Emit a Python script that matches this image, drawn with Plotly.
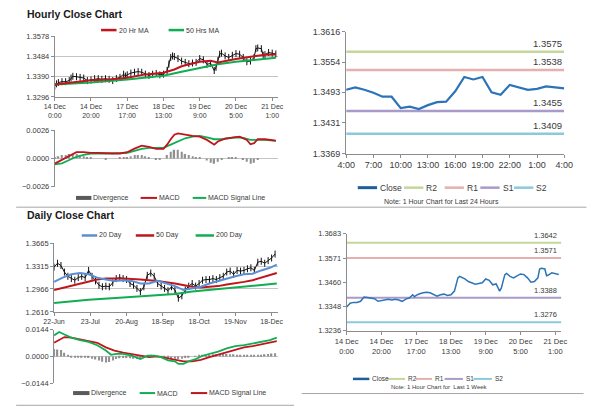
import plotly.graph_objects as go

W, H = 600, 413
OFF = 8  # the page body margin shifts the figure by 8 px
FONT = "Liberation Sans, Arial, sans-serif"

# ---------------- data: hourly (last 1 week) ----------------
hourly_tick_idx = [0, 20, 40, 60, 80, 100, 120]
hourly_tick_text = ["14 Dec<br>0:00", "14 Dec<br>20:00", "17 Dec<br>17:00", "18 Dec<br>13:00",
                    "19 Dec<br>9:00", "20 Dec<br>5:00", "21 Dec<br>1:00"]

hourly_idx = [0, 1, 2, 4, 6, 8, 9, 10, 12, 14, 16, 18, 20, 22, 24, 26, 28, 30, 32, 34, 36, 38, 39, 40,
              42, 44, 46, 48, 50, 52, 54, 56, 58, 60, 62, 63, 64, 65, 66, 68, 70, 72, 74, 76, 78, 80,
              82, 84, 86, 88, 89, 90, 91, 92, 94, 96, 98, 100, 102, 104, 106, 108, 110, 111, 112, 114,
              115, 116, 118, 120, 122]
hourly_close = [1.3346, 1.3357, 1.3363, 1.3367, 1.3367, 1.3372, 1.3384, 1.3392, 1.3390, 1.3387, 1.3384,
                1.3372, 1.3375, 1.3381, 1.3381, 1.3378, 1.3381, 1.3378, 1.3372, 1.3382, 1.3387, 1.3402,
                1.3393, 1.3399, 1.3407, 1.3411, 1.3414, 1.3411, 1.3402, 1.3396, 1.3402, 1.3405, 1.3399,
                1.3402, 1.3419, 1.3449, 1.3480, 1.3487, 1.3484, 1.3475, 1.3463, 1.3457, 1.3451, 1.3454,
                1.3457, 1.3475, 1.3469, 1.3448, 1.3452, 1.3419, 1.3434, 1.3465, 1.3495, 1.3500, 1.3487,
                1.3480, 1.3490, 1.3498, 1.3495, 1.3480, 1.3460, 1.3463, 1.3480, 1.3521, 1.3524, 1.3521,
                1.3490, 1.3493, 1.3503, 1.3500, 1.3496]

ma20_idx = [0, 10, 20, 30, 40, 50, 60, 66, 70, 80, 86, 90, 94, 100, 110, 116, 122]
ma20_hr = [1.3354, 1.3363, 1.3374, 1.3377, 1.3385, 1.3401, 1.3409, 1.3424, 1.3439, 1.3460, 1.3464,
           1.3457, 1.3464, 1.3473, 1.3486, 1.3492, 1.3494]
ma50_idx = [0, 20, 40, 60, 70, 80, 90, 100, 110, 122]
ma50_hr = [1.3354, 1.3363, 1.3377, 1.3395, 1.3413, 1.3432, 1.3448, 1.3460, 1.3470, 1.3479]

macd_hr_idx = [0, 4, 8, 12, 16, 20, 24, 28, 32, 36, 40, 44, 48, 52, 56, 60, 62, 64, 66, 68, 72, 76, 80,
               84, 88, 90, 94, 98, 102, 106, 108, 110, 112, 116, 120, 122]
macd_hr = [-0.00048, -0.00015, 0.00020, 0.00057, 0.00057, 0.00050, 0.00050, 0.00045, 0.00045, 0.00045,
           0.00057, 0.00090, 0.00117, 0.00105, 0.00087, 0.00087, 0.00126, 0.00176, 0.00218, 0.00230,
           0.00215, 0.00206, 0.00200, 0.00170, 0.00126, 0.00155, 0.00182, 0.00194, 0.00200, 0.00170,
           0.00130, 0.00140, 0.00176, 0.00176, 0.00170, 0.00164]
signal_hr_idx = [0, 4, 8, 12, 16, 20, 28, 36, 40, 44, 48, 52, 56, 60, 64, 68, 72, 76, 80, 84, 88, 92,
                 96, 100, 104, 108, 112, 116, 122]
signal_hr = [-0.00054, -0.00045, -0.00015, 0.00015, 0.00033, 0.00045, 0.00045, 0.00045, 0.00050,
             0.00069, 0.00087, 0.00096, 0.00093, 0.00096, 0.00126, 0.00158, 0.00185, 0.00200, 0.00206,
             0.00194, 0.00176, 0.00176, 0.00185, 0.00194, 0.00188, 0.00170, 0.00170, 0.00170, 0.00161]
div_hr_idx = list(range(0, 123, 2))
div_hr = [0.0001, 0.0002, 0.0003, 0.0003, 0.0004, 0.0004, 0.0004, 0.0003, 0.0002, 0.0001, 0.0001, 0.0000,
          0.0000, 0.0000, -0.0001, 0.0000, 0.0000, 0.0000, 0.0001, 0.0001, 0.0001, 0.0002, 0.0003, 0.0003,
          0.0003, 0.0002, 0.0001, 0.0000, -0.0001, -0.0001, 0.0000, 0.0003, 0.0006, 0.0008, 0.0008, 0.0006,
          0.0004, 0.0003, 0.0002, 0.0001, 0.0001, 0.0000, -0.0002, -0.0004, -0.0005, -0.0003, -0.0001,
          0.0000, 0.0001, 0.0001, 0.0001, 0.0000, -0.0001, -0.0003, -0.0005, -0.0004, -0.0001, 0.0000,
          0.0000, 0.0000, 0.0000, 0.0000]

# ---------------- data: last 24 hours ----------------
hours_24_idx = list(range(25))
hours_24_tick_idx = [0, 3, 6, 9, 12, 15, 18, 21, 24]
hours_24_tick_text = ["4:00", "7:00", "10:00", "13:00", "16:00", "19:00", "22:00", "1:00", "4:00"]
close_24h = [1.3498, 1.3503, 1.3498, 1.3492, 1.3484, 1.3484, 1.3461, 1.3464, 1.3459, 1.3467, 1.3473,
             1.3474, 1.3495, 1.3524, 1.3519, 1.3524, 1.3493, 1.3488, 1.3508, 1.3503, 1.3498, 1.3500,
             1.3505, 1.3503, 1.3501]

level_names = ["R2", "R1", "S1", "S2"]
levels_24h = [1.3575, 1.3538, 1.3455, 1.3409]
levels_week = [1.3642, 1.3571, 1.3388, 1.3276]
level_colors = ["#c3d69b", "#e6b0af", "#a99bc9", "#8ccadb"]

# ---------------- data: daily ----------------
daily_tick_idx = [0, 21, 42, 63, 84, 105, 126]
daily_tick_text = ["22-Jun", "23-Jul", "20-Aug", "18-Sep", "18-Oct", "19-Nov", "18-Dec"]
daily_idx = list(range(0, 129, 2))
daily_close = [1.3300, 1.3360, 1.3325, 1.3225, 1.3160, 1.3125, 1.3100, 1.3140, 1.3160, 1.3140, 1.3250,
               1.3160, 1.3090, 1.3025, 1.3000, 1.3010, 1.3000, 1.3060, 1.3125, 1.3140, 1.3125, 1.3110,
               1.3050, 1.3025, 1.2975, 1.2925, 1.3000, 1.3175, 1.3210, 1.3160, 1.3050, 1.3010, 1.2975,
               1.2940, 1.3000, 1.2950, 1.2826, 1.2861, 1.2950, 1.3010, 1.3050, 1.3010, 1.3050, 1.3100,
               1.3110, 1.3110, 1.3125, 1.3110, 1.3140, 1.3160, 1.3225, 1.3240, 1.3190, 1.3250, 1.3240,
               1.3250, 1.3275, 1.3290, 1.3250, 1.3375, 1.3390, 1.3360, 1.3400, 1.3440, 1.3500]

ma_d_idx = [0, 5, 10, 15, 20, 25, 30, 35, 40, 45, 50, 55, 60, 65, 70, 75, 80, 85, 90, 95, 100, 105, 110,
            115, 120, 125, 129]
ma20_d = [1.3075, 1.3140, 1.3190, 1.3210, 1.3190, 1.3140, 1.3110, 1.3090, 1.3100, 1.3090, 1.3050, 1.3050,
          1.3090, 1.3050, 1.3010, 1.2950, 1.2975, 1.3000, 1.3050, 1.3090, 1.3125, 1.3160, 1.3190, 1.3200,
          1.3250, 1.3290, 1.3340]
ma50_d_idx = [0, 10, 20, 25, 30, 40, 50, 60, 70, 75, 80, 85, 90, 95, 100, 105, 110, 115, 120, 125, 129]
ma50_d = [1.2951, 1.3010, 1.3075, 1.3110, 1.3125, 1.3125, 1.3110, 1.3090, 1.3050, 1.3025, 1.3000, 1.2990,
          1.3000, 1.3010, 1.3035, 1.3050, 1.3075, 1.3100, 1.3140, 1.3175, 1.3210]
ma200_d_idx = [0, 20, 40, 60, 70, 80, 90, 100, 110, 120, 129]
ma200_d = [1.2751, 1.2801, 1.2836, 1.2866, 1.2891, 1.2926, 1.2951, 1.2975, 1.3000, 1.3025, 1.3050]

macd_d_idx = [0, 3, 6, 10, 15, 20, 25, 30, 33, 36, 40, 45, 50, 54, 58, 62, 66, 70, 72, 75, 78, 82, 86,
              90, 95, 100, 105, 110, 115, 120, 125, 129]
macd_d = [0.0114, 0.0132, 0.0119, 0.0102, 0.0088, 0.0079, 0.0061, 0.0032, 0.0009, 0.0014, 0.0014, 0.0004,
          -0.0014, 0.0004, 0.0004, -0.0004, -0.0021, -0.0026, -0.0040, -0.0040, -0.0026, -0.0014, 0.0004,
          0.0014, 0.0026, 0.0044, 0.0056, 0.0061, 0.0070, 0.0079, 0.0088, 0.0102]
signal_d_idx = [0, 3, 6, 10, 15, 20, 25, 30, 35, 40, 45, 50, 55, 60, 65, 70, 75, 80, 85, 90, 95, 100, 105,
                110, 115, 120, 125, 129]
signal_d = [0.0074, 0.0091, 0.0105, 0.0102, 0.0093, 0.0084, 0.0074, 0.0049, 0.0032, 0.0021, 0.0014, 0.0004,
            -0.0004, 0.0000, -0.0009, -0.0018, -0.0026, -0.0026, -0.0018, -0.0004, 0.0009, 0.0021, 0.0035,
            0.0049, 0.0056, 0.0067, 0.0074, 0.0083]
div_d_idx = list(range(0, 129, 2))
div_d = [0.0040, 0.0038, 0.0035, 0.0020, 0.0005, -0.0002, -0.0004, -0.0005, -0.0006, -0.0007, -0.0008,
         -0.0012, -0.0016, -0.0022, -0.0028, -0.0032, -0.0030, -0.0022, -0.0014, -0.0010, -0.0008, -0.0008,
         -0.0010, -0.0012, -0.0014, -0.0012, -0.0006, 0.0002, 0.0004, 0.0003, 0.0000, -0.0004, -0.0008,
         -0.0010, -0.0012, -0.0012, -0.0014, -0.0012, -0.0008, -0.0004, 0.0000, 0.0002, 0.0004, 0.0006,
         0.0008, 0.0010, 0.0012, 0.0014, 0.0014, 0.0014, 0.0014, 0.0012, 0.0012, 0.0010, 0.0010, 0.0010,
         0.0010, 0.0010, 0.0010, 0.0010, 0.0010, 0.0012, 0.0014, 0.0016, 0.0018]

# tick values
hr_price_ticks = [1.3296, 1.3390, 1.3484, 1.3578]
hr_macd_ticks = [-0.0026, 0.0, 0.0026]
h24_ticks = [1.3369, 1.3431, 1.3493, 1.3554, 1.3616]
d_price_ticks = [1.2616, 1.2966, 1.3315, 1.3665]
d_macd_ticks = [-0.0144, 0.0, 0.0144]
wk_ticks = [1.3236, 1.3348, 1.3460, 1.3571, 1.3683]

# ---------------- colours ----------------
RED = "#c0151c"
GREEN = "#10ad52"
BLUE_MA = "#5b8fd3"
CLOSE_BLUE = "#2c74b7"
GRID = "#c4c4c4"
AXIS = "#8c8c8c"
TXT = "#3a3a3a"
DIVC = "#8f8f8f"


def X(p):
    return (p - OFF) / W


def Y(p):
    return 1 - (p - OFF) / H


fig = go.Figure()


def line(x, y, color, width, ax, ay):
    fig.add_trace(go.Scatter(x=x, y=y, mode="lines", line=dict(color=color, width=width),
                             xaxis=ax, yaxis=ay, showlegend=False, hoverinfo="skip"))


def bar_close(x, y, ax, ay):
    # close line drawn with small vertical ticks, like the stock-bar look of the original
    fig.add_trace(go.Scatter(x=x, y=y, mode="lines+markers", line=dict(color="#111111", width=1),
                             marker=dict(symbol="line-ns-open", size=5, color="#111111",
                                         line=dict(width=1, color="#111111")),
                             xaxis=ax, yaxis=ay, showlegend=False, hoverinfo="skip"))


def bars(x, y, ax, ay, w):
    fig.add_trace(go.Bar(x=x, y=y, width=w, marker=dict(color=DIVC, line=dict(width=0)),
                         xaxis=ax, yaxis=ay, showlegend=False, hoverinfo="skip"))


# top-left price
bar_close(hourly_idx, hourly_close, "x", "y")
line(ma50_idx, ma50_hr, GREEN, 2, "x", "y")
line(ma20_idx, ma20_hr, RED, 2, "x", "y")
# top-left MACD
bars(div_hr_idx, div_hr, "x2", "y2", 0.8)
line(signal_hr_idx, signal_hr, GREEN, 1.8, "x2", "y2")
line(macd_hr_idx, macd_hr, RED, 1.8, "x2", "y2")
# top-right 24h
for name, lv, col in zip(level_names, levels_24h, level_colors):
    line([hours_24_idx[0], hours_24_idx[-1]], [lv, lv], col, 2.5, "x3", "y3")
line(hours_24_idx, close_24h, CLOSE_BLUE, 2.2, "x3", "y3")
# bottom-left daily
bar_close(daily_idx, daily_close, "x4", "y4")
line(ma200_d_idx, ma200_d, GREEN, 2, "x4", "y4")
line(ma50_d_idx, ma50_d, RED, 2, "x4", "y4")
line(ma_d_idx, ma20_d, BLUE_MA, 2, "x4", "y4")
# bottom-left MACD
bars(div_d_idx, div_d, "x5", "y5", 0.8)
line(signal_d_idx, signal_d, RED, 1.8, "x5", "y5")
line(macd_d_idx, macd_d, GREEN, 1.8, "x5", "y5")
# bottom-right week
for name, lv, col in zip(level_names, levels_week, level_colors):
    line([hourly_idx[0], hourly_idx[-1] + 1.5], [lv, lv], col, 2, "x6", "y6")
line(hourly_idx, hourly_close, CLOSE_BLUE, 1.5, "x6", "y6")


def xax(x0, x1, rng, anchor, tv=None, tt=None, size=7.5, labels=True, show=True):
    d = dict(domain=[X(x0), X(x1)], range=rng, anchor=anchor, showgrid=False, zeroline=False,
             fixedrange=True, showline=show, linecolor=AXIS, linewidth=1, tickangle=0,
             ticks="outside" if show else "", ticklen=3, tickcolor=AXIS,
             tickfont=dict(family=FONT, size=size, color=TXT), showticklabels=labels)
    if tv is not None:
        d.update(tickmode="array", tickvals=tv, ticktext=tt)
    return d


def yax(top, bot, rng, ticks, anchor, grid=True, size=7.5):
    return dict(domain=[Y(bot), Y(top)], range=rng, anchor=anchor, tickmode="array", tickvals=ticks,
                tickformat=".4f", showgrid=grid, gridcolor=GRID, gridwidth=1, zeroline=False,
                fixedrange=True, showline=True, linecolor=AXIS, linewidth=1, ticks="outside",
                ticklen=3, tickcolor=AXIS, tickfont=dict(family=FONT, size=size, color=TXT))


layout = dict(
    width=W, height=H, margin=dict(l=0, r=0, t=0, b=0), paper_bgcolor="white", plot_bgcolor="white",
    showlegend=False, barmode="overlay",
    xaxis=xax(44, 275, [0, 123], "y", hourly_tick_idx, hourly_tick_text, size=7),
    yaxis=yax(32, 94, [hr_price_ticks[0], hr_price_ticks[-1]], hr_price_ticks, "x"),
    xaxis2=xax(44, 275, [0, 123], "y2", labels=False, show=False),
    yaxis2=yax(128, 186, [hr_macd_ticks[0], hr_macd_ticks[-1]], hr_macd_ticks, "x2"),
    xaxis3=xax(346, 572, [0, 24], "y3", hours_24_tick_idx, hours_24_tick_text, size=9),
    yaxis3=yax(27, 152, [h24_ticks[0], h24_ticks[-1]], h24_ticks, "x3", grid=False, size=9),
    xaxis4=xax(43.3, 275, [0, 129.5], "y4", daily_tick_idx, daily_tick_text, size=7),
    yaxis4=yax(244, 314.3, [d_price_ticks[0], d_price_ticks[-1]], d_price_ticks, "x4"),
    xaxis5=xax(43.3, 275, [0, 129.5], "y5", labels=False, show=False),
    yaxis5=yax(332.7, 387.3, [d_macd_ticks[0], d_macd_ticks[-1]], d_macd_ticks, "x5"),
    xaxis6=xax(346.5, 569, [0, 123.5], "y6", hourly_tick_idx, hourly_tick_text, size=7.5),
    yaxis6=yax(234.3, 333.7, [wk_ticks[0], wk_ticks[-1]], wk_ticks, "x6", grid=False, size=7.5),
)
fig.update_layout(**layout)

ann = []
shapes = []


def text(x, y, s, size, anchor="left", color=TXT, bold=False):
    ann.append(dict(xref="paper", yref="paper", x=X(x), y=Y(y), text=("<b>%s</b>" % s) if bold else s,
                    showarrow=False, xanchor=anchor, yanchor="middle",
                    font=dict(family=FONT, size=size, color=color)))


def swatch(x0, x1, y, color, width):
    shapes.append(dict(type="line", xref="paper", yref="paper", x0=X(x0), x1=X(x1), y0=Y(y), y1=Y(y),
                       line=dict(color=color, width=width)))


# titles
text(13, 9, "Hourly Close Chart", 10.5, bold=True, color="#1a1a1a")
text(13, 215, "Daily Close Chart", 10.5, bold=True, color="#1a1a1a")

# top-left legends
swatch(92, 108, 25.5, RED, 2.5); text(108, 25.5, "20 Hr MA", 7)
swatch(162, 178, 25.5, GREEN, 2.5); text(178, 25.5, "50 Hrs MA", 7)
swatch(66, 82, 197.5, "#5a5a5a", 4); text(82, 197.5, "Divergence", 7)
swatch(133, 150, 197.5, RED, 2); text(150, 197.5, "MACD", 7)
swatch(187, 201, 197.5, GREEN, 2); text(201, 197.5, "MACD Signal Line", 7)

# bottom-left legends
swatch(72, 88, 236, BLUE_MA, 2.5); text(88, 236, "20 Day", 7)
swatch(128, 147, 236, RED, 2.5); text(147, 236, "50 Day", 7)
swatch(190, 209, 236, GREEN, 2.5); text(209, 236, "200 Day", 7)
swatch(63, 80, 397.5, "#5a5a5a", 4); text(80, 397.5, "Divergence", 7)
swatch(132, 148, 397.5, GREEN, 2); text(148, 397.5, "MACD", 7)
swatch(185, 202, 397.5, RED, 2); text(202, 397.5, "MACD Signal Line", 7)

# top-right legend + note
swatch(358, 378, 187, "#1f5e9c", 3); text(379, 187, "Close", 8.5)
lx = [(406, 426, 427), (448, 468, 469), (485, 505, 506), (520, 540, 541)]
for (a, b, c), name, col in zip(lx, level_names, level_colors):
    swatch(a, b, 187, col, 2.5); text(c, 187, name, 8.5)
text(445, 201.5, "Note: 1 Hour Chart for Last 24 Hours", 7, anchor="center")

# bottom-right legend + note
swatch(353, 370, 383, "#1f5e9c", 2.5); text(371, 383, "Close", 6.5)
lx2 = [(388, 407, 408), (418, 435, 436), (448, 467, 468), (478, 497, 498)]
for (a, b, c), name, col in zip(lx2, level_names, level_colors):
    swatch(a, b, 383, col, 2); text(c, 383, name, 6.5)
text(443, 391, "Note: 1 Hour Chart for  Last 1 Week", 6, anchor="center")

# level labels
for lv in levels_24h:
    ann.append(dict(xref="x3", yref="y3", x=hours_24_idx[-1], y=lv, text="%.4f" % lv, showarrow=False,
                    xanchor="right", yanchor="bottom", yshift=1,
                    font=dict(family=FONT, size=9.5, color=TXT)))
for lv in levels_week:
    ann.append(dict(xref="x6", yref="y6", x=hourly_idx[-1], y=lv, text="%.4f" % lv, showarrow=False,
                    xanchor="right", yanchor="bottom", yshift=1,
                    font=dict(family=FONT, size=7.5, color=TXT)))

# separators
for x0, x1, y in [(4, 595, 207), (4, 292, 410), (300, 592, 398)]:
    shapes.append(dict(type="line", xref="paper", yref="paper", x0=X(x0), x1=X(x1), y0=Y(y), y1=Y(y),
                       line=dict(color="#a6a6a6", width=1)))

fig.update_layout(annotations=ann, shapes=shapes)
fig.write_html("out.html")
